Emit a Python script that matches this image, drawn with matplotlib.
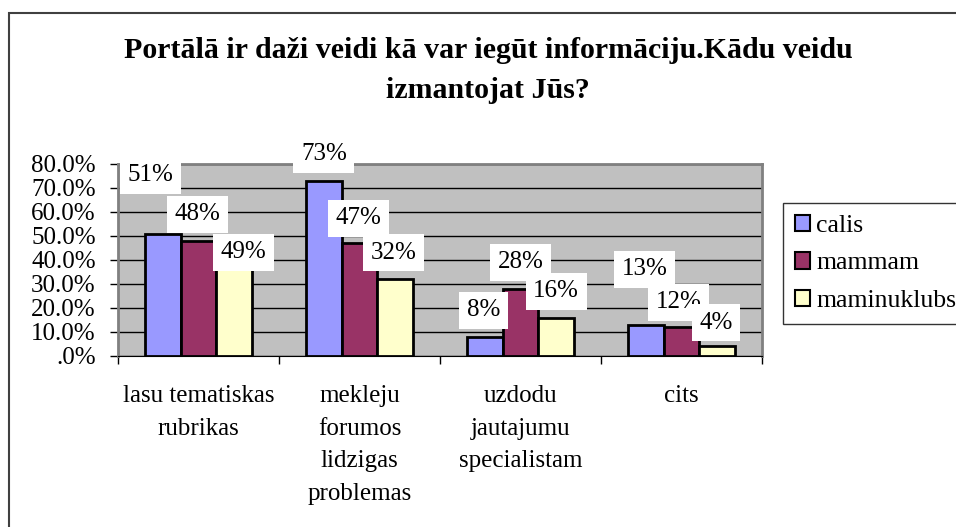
import matplotlib as mpl
mpl.use('Agg')
import numpy as np
import matplotlib.pyplot as plt
from matplotlib.ticker import FuncFormatter

categories = ['lasu tematiskas\nrubrikas', 'mekleju\nforumos\nlidzigas\nproblemas',
              'uzdodu\njautajumu\nspecialistam', 'cits']
series_names = ['calis', 'mammam', 'maminuklubs']
calis = [0.51, 0.73, 0.08, 0.13]
mammam = [0.48, 0.47, 0.28, 0.12]
maminuklubs = [0.49, 0.32, 0.16, 0.04]
title = 'Portālā ir daži veidi kā var iegūt informāciju.Kādu veidu\nizmantojat Jūs?'

colors = ['#9999FF', '#993366', '#FFFFCC']
# label offsets (points) from the bar top, Excel moved a few by hand
offsets = [
    [(-9, 42), (-1, 19), (7, -10)],
    [(0, 19), (-1, 18), (-1, 19)],
    [(-1, 19), (0, 19), (0, 19)],
    [(-1, 40), (-2, 18), (-1, 17)],
]

plt.rcParams['font.family'] = ['Liberation Serif', 'DejaVu Serif']

fig = plt.figure(figsize=(9.56, 5.27), dpi=100)
ax = fig.add_axes([118/956, 1-356/527, (762-118)/956, (356-164)/527])
ax.set_facecolor('#C0C0C0')

x = np.arange(len(categories))
width = 0.221
data = [calis, mammam, maminuklubs]
for j, (vals, name) in enumerate(zip(data, series_names)):
    ax.bar(x + (j-1)*width, vals, width, color=colors[j], edgecolor='black',
           linewidth=2, label=name, zorder=3)

for j, vals in enumerate(data):
    for i, v in enumerate(vals):
        dx, dy = offsets[i][j]
        ax.annotate('%d%%' % round(v*100), (x[i] + (j-1)*width, v),
                    xytext=(dx, dy), textcoords='offset points',
                    ha='center', va='center', fontsize=18, zorder=5,
                    annotation_clip=False,
                    bbox=dict(boxstyle='square,pad=0.3', fc='white', ec='none'))

def pct(v, p):
    s = '%.1f%%' % (v*100)
    return s[1:] if s.startswith('0') else s

ax.set_xlim(-0.5, 3.5)
ax.set_ylim(0, 0.8)
ax.set_yticks(np.arange(0, 0.81, 0.1))
ax.yaxis.set_major_formatter(FuncFormatter(pct))
ax.yaxis.grid(True, color='black', linewidth=1, zorder=1)
ax.set_axisbelow(True)
ax.tick_params(axis='y', direction='out', length=6, width=1, labelsize=18, pad=10)

ax.set_xticks(x)
ax.set_xticklabels(categories, fontsize=18, linespacing=1.62, va='top')
ax.tick_params(axis='x', length=0, pad=21)
ax.set_xticks(np.arange(-0.5, 3.6, 1), minor=True)
ax.tick_params(axis='x', which='minor', length=6, width=1, direction='out')

for s in ['top', 'right', 'left']:
    ax.spines[s].set_color('#808080')
    ax.spines[s].set_linewidth(2)
ax.spines['bottom'].set_color('black')

fig.text(488/956, 1-37/527, title, ha='center', va='top', fontsize=21.5,
         fontweight='bold', linespacing=1.62)

leg = fig.legend(loc='upper left', bbox_to_anchor=(783/956, 1-203/527), fontsize=18.5,
                 frameon=True, fancybox=False, edgecolor='black', handlelength=0.6,
                 handleheight=0.6, handletextpad=0.25, labelspacing=0.6, borderpad=0.45,
                 borderaxespad=0)
leg.get_frame().set_linewidth(1)
for h in leg.legend_handles:
    h.set_linewidth(1.5)

fig.patches.append(plt.Rectangle((9/956, -0.05), 1.1, 1.05-13/527, transform=fig.transFigure,
                                 fill=False, ec='#404040', lw=1.5))
fig.savefig('out.png', dpi=100)
